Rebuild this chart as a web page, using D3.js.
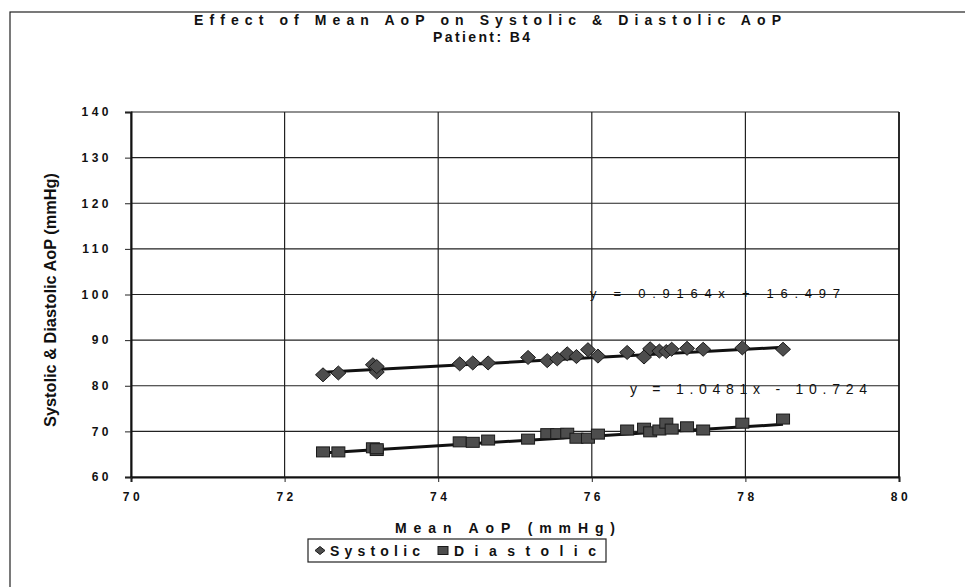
<!DOCTYPE html>
<html>
<head>
<meta charset="utf-8">
<script src="https://cdn.jsdelivr.net/npm/d3@7"></script>
<style>
  body { margin: 0; background: #fff; }
  text { font-family: 'Liberation Sans', Arial, sans-serif; fill: #111; }
</style>
</head>
<body>
<div id="chart"></div>
<script>
// values
const meanAoP = [72.5, 72.7, 73.15, 73.2, 73.2, 74.28, 74.45, 74.65, 75.17, 75.42, 75.55, 75.68, 75.8,
  75.95, 76.08, 76.46, 76.68, 76.76, 76.88, 76.97, 77.04, 77.24, 77.45, 77.96, 78.49];
const systolic = [82.4, 82.8, 84.6, 83.0, 84.2, 84.8, 85.0, 85.0, 86.2, 85.5, 85.9, 87.0, 86.4,
  87.9, 86.5, 87.3, 86.3, 88.1, 87.6, 87.5, 88.0, 88.2, 88.0, 88.3, 88.0];
const diastolic = [65.5, 65.5, 66.4, 65.8, 66.2, 67.7, 67.6, 68.1, 68.3, 69.5, 69.5, 69.6, 68.5,
  68.5, 69.4, 70.3, 70.7, 69.9, 70.3, 71.8, 70.5, 71.0, 70.3, 71.8, 72.7];

// linear trendlines as printed on the chart: [slope, intercept]
const sysFit = [0.9164, 16.497];
const diaFit = [1.0481, -10.724];
const sysLabel = 'y = 0.9164x + 16.497';
const diaLabel = 'y = 1.0481x - 10.724';

const xTicks = [70, 72, 74, 76, 78, 80];
const yTicks = [60, 70, 80, 90, 100, 110, 120, 130, 140];

const W = 965, H = 587;
const margin = { top: 112, right: 66, bottom: 110, left: 131 };
const width = W - margin.left - margin.right;
const height = H - margin.top - margin.bottom;

const svg = d3.select('#chart').append('svg')
  .attr('width', W).attr('height', H);

// outer chart frame (runs off the page on right/bottom)
svg.append('rect')
  .attr('x', 10).attr('y', 12).attr('width', 1000).attr('height', 1000)
  .attr('fill', 'none').attr('stroke', '#222').attr('stroke-width', 1.2);

const g = svg.append('g').attr('transform', `translate(${margin.left},${margin.top})`);

const x = d3.scaleLinear().domain([70, 80]).range([0, width]);
const y = d3.scaleLinear().domain([60, 140]).range([height, 0]);

// grid
g.append('g').selectAll('line').data(yTicks).join('line')
  .attr('x1', 0).attr('x2', width)
  .attr('y1', d => y(d)).attr('y2', d => y(d))
  .attr('stroke', '#222').attr('stroke-width', 1.2);
g.append('g').selectAll('line').data(xTicks).join('line')
  .attr('y1', 0).attr('y2', height)
  .attr('x1', d => x(d)).attr('x2', d => x(d))
  .attr('stroke', '#222').attr('stroke-width', 1.2);

// axes
const yAxis = g.append('g')
  .call(d3.axisLeft(y).tickValues(yTicks).tickSize(6).tickPadding(13).tickFormat(d3.format('d')));
const xAxis = g.append('g')
  .attr('transform', `translate(0,${height})`)
  .call(d3.axisBottom(x).tickValues(xTicks).tickSize(5).tickPadding(10).tickFormat(d3.format('d')));

[yAxis, xAxis].forEach(ax => {
  ax.select('.domain').attr('stroke', '#111').attr('stroke-width', 2);
  ax.selectAll('.tick line').attr('stroke', '#222');
  ax.selectAll('text')
    .attr('font-size', 12).attr('font-weight', 'bold')
    .attr('letter-spacing', '3.5px').attr('fill', '#111');
});
xAxis.selectAll('text').attr('dx', '1.5px');

// right border of plot
g.append('line').attr('x1', width).attr('x2', width).attr('y1', 0).attr('y2', height)
  .attr('stroke', '#111').attr('stroke-width', 1.5);

// trendlines
function fitLine(fit) {
  const x0 = d3.min(meanAoP), x1 = d3.max(meanAoP);
  return [[x0, fit[0] * x0 + fit[1]], [x1, fit[0] * x1 + fit[1]]];
}
const line = d3.line().x(d => x(d[0])).y(d => y(d[1]));
[sysFit, diaFit].forEach(fit => {
  g.append('path').attr('d', line(fitLine(fit)))
    .attr('fill', 'none').attr('stroke', '#111').attr('stroke-width', 3);
});

// markers
const diamond = 'M0,-7L7.5,0L0,7L-7.5,0Z';
g.append('g').selectAll('path').data(meanAoP).join('path')
  .attr('d', diamond)
  .attr('transform', (d, i) => `translate(${x(d)},${y(systolic[i])})`)
  .attr('fill', '#4d4d4d').attr('stroke', '#1a1a1a').attr('stroke-width', 1);

g.append('g').selectAll('rect').data(meanAoP).join('rect')
  .attr('x', d => x(d) - 6.5).attr('y', (d, i) => y(diastolic[i]) - 5)
  .attr('width', 13).attr('height', 10)
  .attr('fill', '#4d4d4d').attr('stroke', '#1a1a1a').attr('stroke-width', 1);

// equation labels
g.append('text').attr('x', 459).attr('y', 186)
  .attr('font-size', 13).attr('textLength', 250).attr('lengthAdjust', 'spacing')
  .text(sysLabel);
g.append('text').attr('x', 499).attr('y', 282)
  .attr('font-size', 14).attr('textLength', 237).attr('lengthAdjust', 'spacing')
  .text(diaLabel);

// titles
svg.append('text').attr('x', 194).attr('y', 25)
  .attr('font-size', 14).attr('font-weight', 'bold')
  .attr('textLength', 587).attr('lengthAdjust', 'spacing')
  .text('Effect of Mean AoP on Systolic & Diastolic AoP');
svg.append('text').attr('x', 433).attr('y', 42)
  .attr('font-size', 14).attr('font-weight', 'bold')
  .attr('textLength', 97).attr('lengthAdjust', 'spacing')
  .text('Patient: B4');

svg.append('text').attr('x', 395).attr('y', 533)
  .attr('font-size', 14).attr('font-weight', 'bold')
  .attr('textLength', 220).attr('lengthAdjust', 'spacing')
  .text('Mean AoP (mmHg)');

svg.append('text')
  .attr('transform', 'translate(56,300) rotate(-90)')
  .attr('text-anchor', 'middle')
  .attr('font-size', 16).attr('font-weight', 'bold')
  .attr('textLength', 254).attr('lengthAdjust', 'spacingAndGlyphs')
  .style('font-family', "'Liberation Sans Narrow', 'Arial Narrow', 'Liberation Sans', sans-serif")
  .text('Systolic & Diastolic AoP (mmHg)');

// legend
const lg = svg.append('g').attr('transform', 'translate(308,539)');
lg.append('rect').attr('width', 298).attr('height', 23)
  .attr('fill', '#fff').attr('stroke', '#222').attr('stroke-width', 1.2);
lg.append('path').attr('d', 'M0,-4L5,0L0,4L-5,0Z').attr('transform', 'translate(12,11.5)')
  .attr('fill', '#4d4d4d').attr('stroke', '#1a1a1a');
lg.append('text').attr('x', 22).attr('y', 17).attr('font-size', 14).attr('font-weight', 'bold')
  .attr('textLength', 90).attr('lengthAdjust', 'spacing').text('Systolic');
lg.append('rect').attr('x', 130).attr('y', 7.5).attr('width', 10).attr('height', 8)
  .attr('fill', '#4d4d4d').attr('stroke', '#1a1a1a');
lg.append('text').attr('x', 146).attr('y', 17).attr('font-size', 14).attr('font-weight', 'bold')
  .attr('textLength', 142).attr('lengthAdjust', 'spacing').text('Diastolic');
</script>
</body>
</html>
